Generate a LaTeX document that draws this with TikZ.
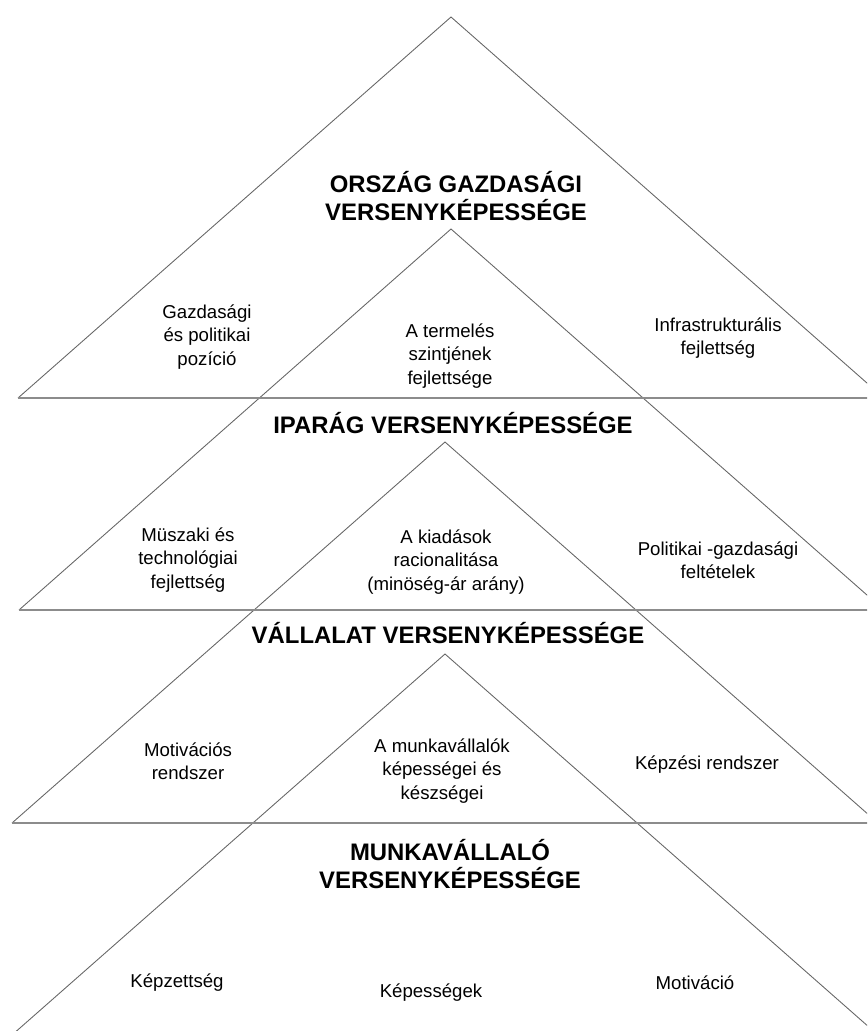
\documentclass[tikz,border=0pt]{standalone}
\usepackage{fontspec}
\setmainfont{Liberation Sans}
\begin{document}
\begin{tikzpicture}[
            x=0.02cm,y=-0.02cm,
            leg/.style={draw=black!60,line width=0.5pt},
            base/.style={draw=black!45,line width=1.1pt},
            level/.style={font=\fontsize{13.6}{16}\selectfont\bfseries,align=center,inner sep=0pt},
            factor/.style={font=\fontsize{10.6}{13.3}\selectfont,align=center,inner sep=0pt},
        ]

        % Frame
        \clip (0,0) rectangle (867,1031);

        % Triangles: apex, left and right corner
        \coordinate (apexA) at (451,17);   \coordinate (leftA) at (18,398);  \coordinate (rightA) at (884,398);
        \coordinate (apexB) at (451,229);  \coordinate (leftB) at (19,610);  \coordinate (rightB) at (884,610);
        \coordinate (apexC) at (445,442);  \coordinate (leftC) at (12,823);  \coordinate (rightC) at (878,823);
        \coordinate (apexD) at (445,654);  \coordinate (leftD) at (12,1035); \coordinate (rightD) at (878,1035);

        \foreach \t in {A,B,C,D} {
                \draw[leg] (left\t) -- (apex\t) -- (right\t);
            }
        \foreach \t in {A,B,C} {
                \draw[base] (left\t) -- (right\t);
            }

        % Country level
        \node[level] (country) at (456,196) {ORSZÁG GAZDASÁGI\\VERSENYKÉPESSÉGE};
        \node[factor] (position) at (207,337) {Gazdasági\\és politikai\\pozíció};
        \node[factor] (production) at (450,356) {A termelés\\szintjének\\fejlettsége};
        \node[factor] (infra) at (718,338) {Infrastrukturális\\fejlettség};

        % Industry level
        \node[level] (industry) at (453,423) {IPARÁG VERSENYKÉPESSÉGE};
        \node[factor] (technology) at (188,560) {Müszaki és\\technológiai\\fejlettség};
        \node[factor] (expenses) at (446,562) {A kiadások\\racionalitása\\(minöség-ár arány)};
        \node[factor] (conditions) at (718,560) {Politikai -gazdasági\\feltételek};

        % Company level
        \node[level] (company) at (448,633) {VÁLLALAT VERSENYKÉPESSÉGE};
        \node[factor] (incentive) at (188,761) {Motivációs\\rendszer};
        \node[factor] (skills) at (442,771) {A munkavállalók\\képességei és\\készségei};
        \node[factor] (training) at (707,765) {Képzési rendszer};

        % Employee level
        \node[level] (employee) at (450,864) {MUNKAVÁLLALÓ\\VERSENYKÉPESSÉGE};
        \node[factor] (qualification) at (177,983) {Képzettség};
        \node[factor] (abilities) at (431,993) {Képességek};
        \node[factor] (motivation) at (695,983) {Motiváció};

    \end{tikzpicture}
\end{document}
